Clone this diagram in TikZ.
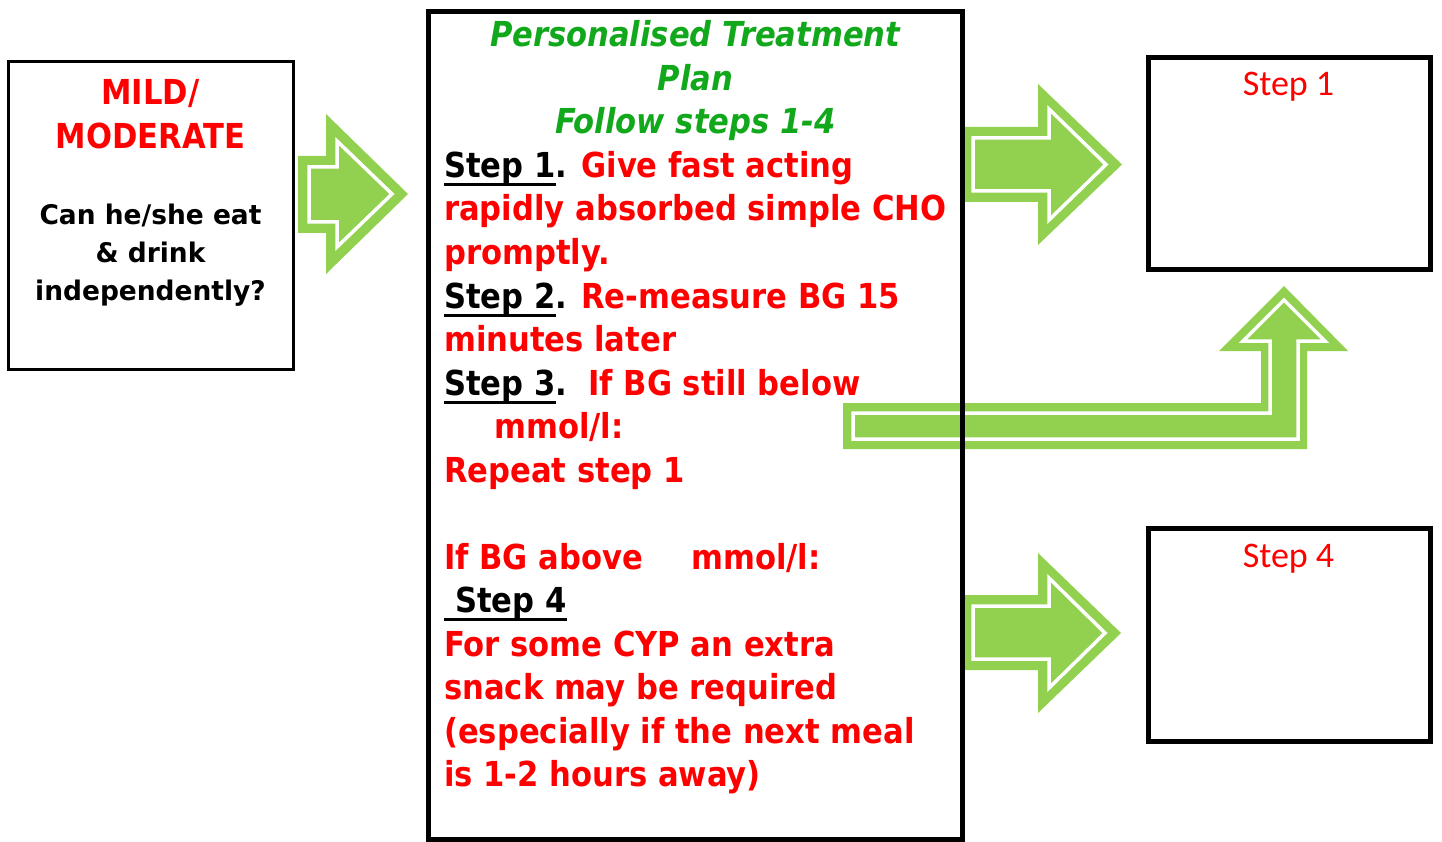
\documentclass[tikz,border=0pt]{standalone}
\usepackage{fontspec}
\setmainfont{DejaVu Sans}
\newfontfamily\tahfont{DejaVu Sans}[FakeStretch=0.89]
\newfontfamily\tahwide{DejaVu Sans}[FakeStretch=0.98]
\newfontfamily\calfont{Carlito}
\definecolor{arrowgreen}{RGB}{146,208,80}
\definecolor{titlegreen}{RGB}{18,168,28}
\definecolor{txtred}{RGB}{255,0,0}
\newcommand\myul[1]{\setbox0\hbox{#1}\rlap{\rule[-8.5pt]{\wd0}{3pt}}\box0}
\tikzset{
  txt/.style={anchor=base west, inner sep=0pt, text=txtred,
    font=\tahfont\bfseries\fontsize{34.4}{43.5}\selectfont},
  ttl/.style={anchor=base, inner sep=0pt, text=titlegreen,
    font=\tahfont\bfseries\itshape\fontsize{34.4}{43.5}\selectfont},
  lefthead/.style={anchor=base, inner sep=0pt, text=txtred,
    font=\tahfont\bfseries\fontsize{34.4}{43.5}\selectfont},
  leftq/.style={anchor=base, inner sep=0pt, text=black,
    font=\tahwide\bfseries\fontsize{27}{37.5}\selectfont},
  steplabel/.style={anchor=base, inner sep=0pt, text=txtred,
    font=\calfont\fontsize{36}{40}\selectfont},
  frame/.style={draw=black, line width=5pt},
  garrow/.style={fill=arrowgreen},
  garrowline/.style={draw=white, line width=3.5pt, line join=miter},
}
\begin{document}
\begin{tikzpicture}[x=1pt, y=-1pt]
\useasboundingbox (0,0) rectangle (1442,842);
\fill[white] (0,0) rectangle (1442,842);

% ---- green arrows ----
% left arrow
\fill[garrow] (298,156) -- (326,156) -- (326,114) -- (408,194) -- (326,274) -- (326,233) -- (298,233) -- cycle;
\draw[garrowline] (309,167) -- (337,167) -- (337,141) -- (392,194) -- (337,247) -- (337,222) -- (309,222) -- cycle;
% top right arrow
\fill[garrow] (962,127) -- (1038,127) -- (1038,84) -- (1122,164.5) -- (1038,245) -- (1038,202) -- (962,202) -- cycle;
\draw[garrowline] (973,138) -- (1049,138) -- (1049,109) -- (1106,164.5) -- (1049,220) -- (1049,191) -- (973,191) -- cycle;
% bottom right arrow
\fill[garrow] (962,595) -- (1038,595) -- (1038,553) -- (1121,633) -- (1038,713) -- (1038,670) -- (962,670) -- cycle;
\draw[garrowline] (973,606) -- (1049,606) -- (1049,578) -- (1105,633) -- (1049,688) -- (1049,659) -- (973,659) -- cycle;
% bent arrow
\fill[garrow] (843,403) -- (1261,403) -- (1261,351) -- (1219,351) -- (1284,286) -- (1348,351) -- (1307,351) -- (1307,449) -- (843,449) -- cycle;
\draw[garrowline] (853,413) -- (1270,413) -- (1270,341) -- (1243,341) -- (1284,300) -- (1325,341) -- (1298,341) -- (1298,439) -- (853,439) -- cycle;

% ---- boxes ----
\draw[draw=black, line width=3.5pt] (8.5,61.5) rectangle (293.5,369.5);
\draw[frame] (428.5,11.5) rectangle (962.5,839.5);
\draw[frame] (1148.5,57.5) rectangle (1430,269.5);
\draw[frame] (1148.5,528.5) rectangle (1430,741);

% ---- left box text ----
\node[lefthead] (l1) at (150.5,105) {MILD/};
\node[lefthead] (l2) at (150.5,149) {MODERATE};
\node[leftq] (l3) at (150.5,225) {Can he/she eat};
\node[leftq] (l4) at (150.5,262.5) {\& drink};
\node[leftq] (l5) at (150.5,300) {independently?};

% ---- centre box text ----
\node[ttl] (t1) at (695.5,47) {Personalised Treatment};
\node[ttl] (t2) at (695.5,90.5) {Plan};
\node[ttl] (t3) at (695.5,134) {Follow steps 1-4};
\node[txt] (s1) at (444,177.5) {\textcolor{black}{\myul{Step 1}.} Give fast acting};
\node[txt] (s1b) at (444,221) {rapidly absorbed simple CHO};
\node[txt] (s1c) at (444,264.5) {promptly.};
\node[txt] (s2) at (444,308) {\textcolor{black}{\myul{Step 2}.} Re-measure BG 15};
\node[txt] (s2b) at (444,351.5) {minutes later};
\node[txt] (s3) at (444,395) {\textcolor{black}{\myul{Step 3}.}\hspace{0.62em}If BG still below};
\node[txt] (s3b) at (494,438.5) {mmol/l:};
\node[txt] (s3c) at (444,482) {Repeat step 1};
\node[txt] (s3d) at (444,569) {If BG above};
\node[txt] (s3e) at (691,569) {mmol/l:};
\node[txt, text=black] (s4) at (444,612.5) {\myul{\hspace{11pt}Step 4}};
\node[txt] (s4b) at (444,656) {For some CYP an extra};
\node[txt] (s4c) at (444,699.5) {snack may be required};
\node[txt] (s4d) at (444,743) {(especially if the next meal};
\node[txt] (s4e) at (444,786.5) {is 1-2 hours away)};

% ---- right boxes text ----
\node[steplabel] (r1) at (1288.5,96) {Step 1};
\node[steplabel] (r4) at (1288.5,567) {Step 4};
\end{tikzpicture}
\end{document}
